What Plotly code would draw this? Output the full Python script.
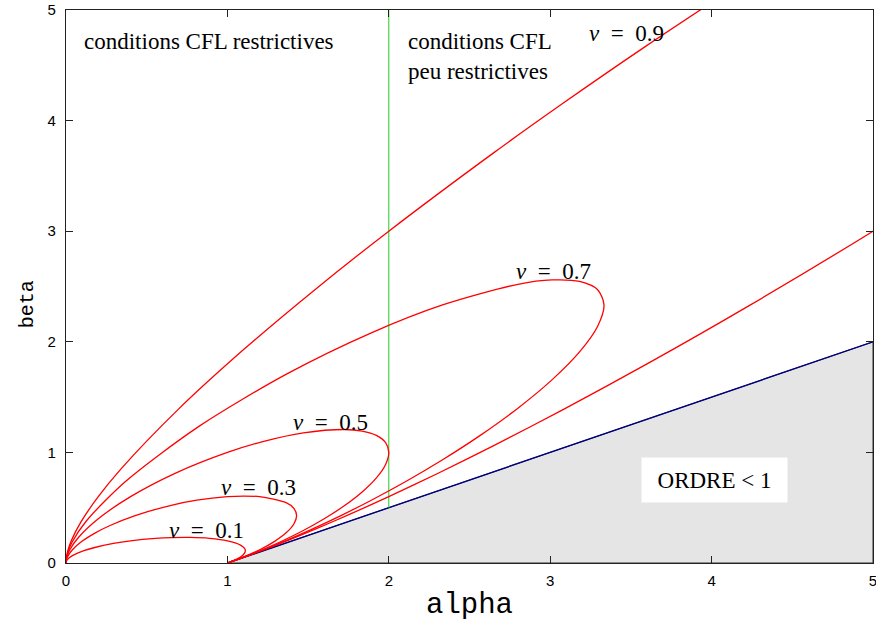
import plotly.graph_objects as go

# ---- data ----
# stability curves, one per CFL number nu
nu01_x = [1.0, 1.0373, 1.0811, 1.1062, 1.1111, 1.1062, 1.0811, 1.0, 0.8889, 0.7692, 0.6557,
          0.5556, 0.4, 0.2941, 0.1724, 0.1111, 0.04878, 0.02703, 0.01176, 0.00415, 0.00102, 0.0]
nu01_y = [0.0, 0.02075, 0.0541, 0.0885, 0.1111, 0.1327, 0.1622, 0.2, 0.2222, 0.2308, 0.2295,
          0.2222, 0.2, 0.1765, 0.1379, 0.1111, 0.07317, 0.05405, 0.03529, 0.02075, 0.0102, 0.0]

nu03_x = [1.0, 1.1009, 1.2, 1.2903, 1.3636, 1.4118, 1.4286, 1.4118, 1.3636, 1.2, 1.1009, 1.0,
          0.81081, 0.65217, 0.42857, 0.26966, 0.18182, 0.09677, 0.04, 0.013453, 0.0031814,
          0.00077261, 0.0]
nu03_y = [0.0, 0.05505, 0.12, 0.19355, 0.27273, 0.35294, 0.42857, 0.49412, 0.54545, 0.6, 0.6055,
          0.6, 0.56757, 0.52174, 0.42857, 0.33708, 0.27273, 0.19355, 0.12, 0.067265, 0.031814,
          0.015452, 0.0]

nu05_x = [1.0, 1.10497, 1.21951, 1.34228, 1.47059, 1.6, 1.72414, 1.83486, 1.92308, 1.9802, 2.0,
          1.9802, 1.92308, 1.83486, 1.72414, 1.47059, 1.21951, 1.0, 0.67568, 0.4, 0.2, 0.076923,
          0.02439, 0.0055249, 0.0013141, 0.0]
nu05_y = [0.0, 0.055249, 0.121951, 0.201342, 0.294118, 0.4, 0.517241, 0.642202, 0.769231,
          0.891089, 1.0, 1.089109, 1.153846, 1.192661, 1.206897, 1.176471, 1.097561, 1.0,
          0.81081, 0.6, 0.4, 0.230769, 0.121951, 0.055249, 0.026281, 0.0]

nu07_x = [1.0, 1.10672, 1.22807, 1.36585, 1.52174, 1.69697, 1.89189, 2.10526, 2.33333, 2.56881,
          2.8, 3.01075, 3.18182, 3.29412, 3.33333, 3.29412, 3.18182, 3.01075, 2.8, 2.33333,
          1.89189, 1.36585, 0.82353, 0.36842, 0.127273, 0.037433, 0.0080738, 0.0018782, 0.0]
nu07_y = [0.0, 0.055336, 0.122807, 0.204878, 0.304348, 0.424242, 0.567568, 0.736842, 0.933333,
          1.155963, 1.4, 1.655914, 1.909091, 2.141176, 2.333333, 2.470588, 2.545455, 2.55914,
          2.52, 2.33333, 2.081081, 1.707317, 1.235294, 0.736842, 0.381818, 0.187166, 0.080738,
          0.037563, 0.0]

nu09_low_x = [1.0, 1.10769, 1.23288, 1.37931, 1.55172, 1.7561, 2.0, 2.29299, 2.64706, 3.07692,
              3.6, 4.23529, 5.0, 5.90164]
nu09_low_y = [0.0, 0.055385, 0.123288, 0.206897, 0.310345, 0.439024, 0.6, 0.802548, 1.058824,
              1.384615, 1.8, 2.329412, 3.0, 3.836066]
nu09_up_x = [4.23529, 3.6, 3.07692, 2.64706, 2.0, 1.55172, 1.10769, 0.692308, 0.339623, 0.2,
             0.092784, 0.034483, 0.010856, 0.0024664, 0.0]
nu09_up_y = [5.294118, 4.68, 4.153846, 3.705882, 3.0, 2.482759, 1.938462, 1.384615, 0.849057,
             0.6, 0.371134, 0.206897, 0.108565, 0.049329, 0.0]

# boundary of the "ORDRE < 1" region and the CFL separation line
order_x = [1, 5]
order_y = [0, 2]
order_fill_x = [1, 5, 5, 1]
order_fill_y = [0, 2, 0, 0]
cfl_x = [2, 2]
cfl_y = [0.5, 5]

nu_labels = ["0.1", "0.3", "0.5", "0.7", "0.9"]
nu_label_x = [0.870, 1.190, 1.636, 3.020, 3.470]
nu_label_y = [0.298, 0.687, 1.266, 2.634, 4.792]

tick_vals = [0, 1, 2, 3, 4, 5]

RED = "#ff0000"
SERIF = "Liberation Serif"

fig = go.Figure()

fig.add_trace(go.Scatter(x=order_fill_x, y=order_fill_y, mode="lines", fill="toself",
                         fillcolor="#e5e5e5", line=dict(color="#333333", width=1),
                         hoverinfo="skip"))
fig.add_trace(go.Scatter(x=order_x, y=order_y, mode="lines",
                         line=dict(color="#000080", width=1.4)))
fig.add_trace(go.Scatter(x=cfl_x, y=cfl_y, mode="lines",
                         line=dict(color="#22cc22", width=1)))

curves = [(nu01_x, nu01_y), (nu03_x, nu03_y), (nu05_x, nu05_y), (nu07_x, nu07_y),
          (nu09_low_x, nu09_low_y), (nu09_up_x, nu09_up_y)]
for cx, cy in curves:
    fig.add_trace(go.Scatter(x=cx, y=cy, mode="lines",
                             line=dict(color=RED, width=1.3, shape="spline", smoothing=0.8)))

for lab, lx, ly in zip(nu_labels, nu_label_x, nu_label_y):
    fig.add_annotation(x=lx, y=ly, text="<i>ν</i>&nbsp;&nbsp;=&nbsp;&nbsp;" + lab,
                       showarrow=False,
                       font=dict(family=SERIF, size=23, color="black"),
                       xanchor="center", yanchor="middle")

fig.add_annotation(x=0.099, y=4.711, text="conditions CFL restrictives", showarrow=False,
                   font=dict(family=SERIF, size=23, color="black"),
                   xanchor="left", yanchor="middle")
fig.add_annotation(x=2.107, y=4.584, text="conditions CFL<br>peu restrictives",
                   showarrow=False, align="left",
                   font=dict(family=SERIF, size=23, color="black"),
                   xanchor="left", yanchor="middle")
fig.add_annotation(x=4.021, y=0.750, text="ORDRE &lt; 1", showarrow=False,
                   font=dict(family=SERIF, size=23, color="black"),
                   bgcolor="white", width=145, height=44, borderpad=0,
                   xanchor="center", yanchor="middle")

# y axis title, placed as in the reference (slightly below the middle)
fig.add_annotation(xref="paper", yref="paper", x=-0.0483, y=0.468, text="beta",
                   textangle=-90, showarrow=False,
                   font=dict(family="Liberation Mono", size=20, color="black"),
                   xanchor="center", yanchor="middle")

axis_common = dict(range=[0, 5], tickvals=tick_vals, ticks="inside", ticklen=7,
                   tickwidth=1.2, tickcolor="#222222", automargin=False,
                   ticklabeloverflow="allow",
                   showline=True, linecolor="#222222", linewidth=1.4, mirror="ticks",
                   showgrid=False, zeroline=False,
                   tickfont=dict(family="Liberation Sans", size=15, color="black"))

fig.update_xaxes(**axis_common, ticklabelstandoff=4,
                 title=dict(text="alpha", standoff=5,
                            font=dict(family="Liberation Mono", size=29, color="black")))
fig.update_yaxes(**axis_common, ticklabelstandoff=6)

fig.update_layout(width=876, height=622, showlegend=False,
                  plot_bgcolor="white", paper_bgcolor="white",
                  margin=dict(l=66, r=3, t=10, b=59))

fig.write_html("out.html", config={"displayModeBar": False},
               post_script="document.body.style.margin='0px';"
                           "document.body.style.overflow='hidden';")
